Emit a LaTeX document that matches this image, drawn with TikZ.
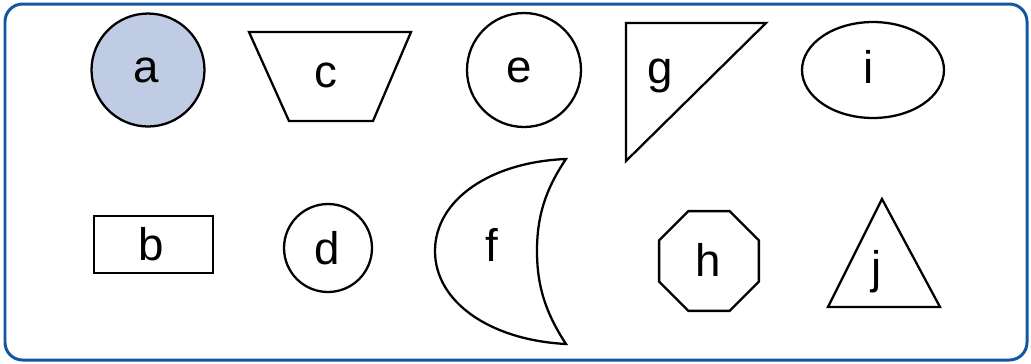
\documentclass[tikz,border=0pt]{standalone}
\usepackage{fontspec}
\setmainfont{Liberation Sans}
\usetikzlibrary{shapes.geometric}
\definecolor{framecol}{RGB}{18,88,160}
\definecolor{shadecol}{RGB}{192,204,227}

\begin{document}
\begin{tikzpicture}[
  x=0.02cm, y=-0.02cm,
  outl/.style={draw, line width=1.3pt, line join=miter},
  shp/.style={outl, inner sep=0pt},
  lbl/.style={inner sep=0pt, font=\fontsize{26}{26}\selectfont}
]
\useasboundingbox (0,0) rectangle (1031,363);
\draw[framecol, line width=1.7pt, rounded corners=10pt] (5,4) rectangle (1027,360);

\node[shp, circle, fill=shadecol, minimum size=2.26cm] (ashape) at (148,70) {};
\node[shp, circle, minimum size=2.28cm] (eshape) at (524,70) {};
\node[shp, ellipse, minimum width=2.84cm, minimum height=1.92cm] (ishape) at (873,70) {};
\node[shp, rectangle, minimum width=2.38cm, minimum height=1.14cm] (bshape) at (153.5,244.5) {};
\node[shp, circle, minimum size=1.76cm] (dshape) at (328,248) {};
\node[shp, regular polygon, regular polygon sides=8, minimum size=2.16cm] (hshape) at (709,261) {};
\draw[outl] (249,32) -- (411,32) -- (373,121) -- (289,121) -- cycle;
\draw[outl] (626,23) -- (766,23) -- (626,161) -- cycle;
\draw[outl] (882,199) -- (940,307) -- (828,307) -- cycle;
\draw[outl] (566,159) .. controls (490,162) and (435,200) .. (435,251)
  .. controls (435,302) and (490,340) .. (566,344)
  .. controls (545,312) and (537,285) .. (537,251)
  .. controls (537,217) and (545,190) .. cycle;

\node[lbl] (a) at (146,70) {a};
\node[lbl] (c) at (326,75) {c};
\node[lbl] (e) at (519,70) {e};
\node[lbl] (g) at (660,76) {g};
\node[lbl] (i) at (869,67) {i};
\node[lbl] (b) at (151,244) {b};
\node[lbl] (d) at (327.5,248) {d};
\node[lbl] (f) at (492,245) {f};
\node[lbl] (h) at (708,260) {h};
\node[lbl] (j) at (877,272) {j};
\end{tikzpicture}
\end{document}
